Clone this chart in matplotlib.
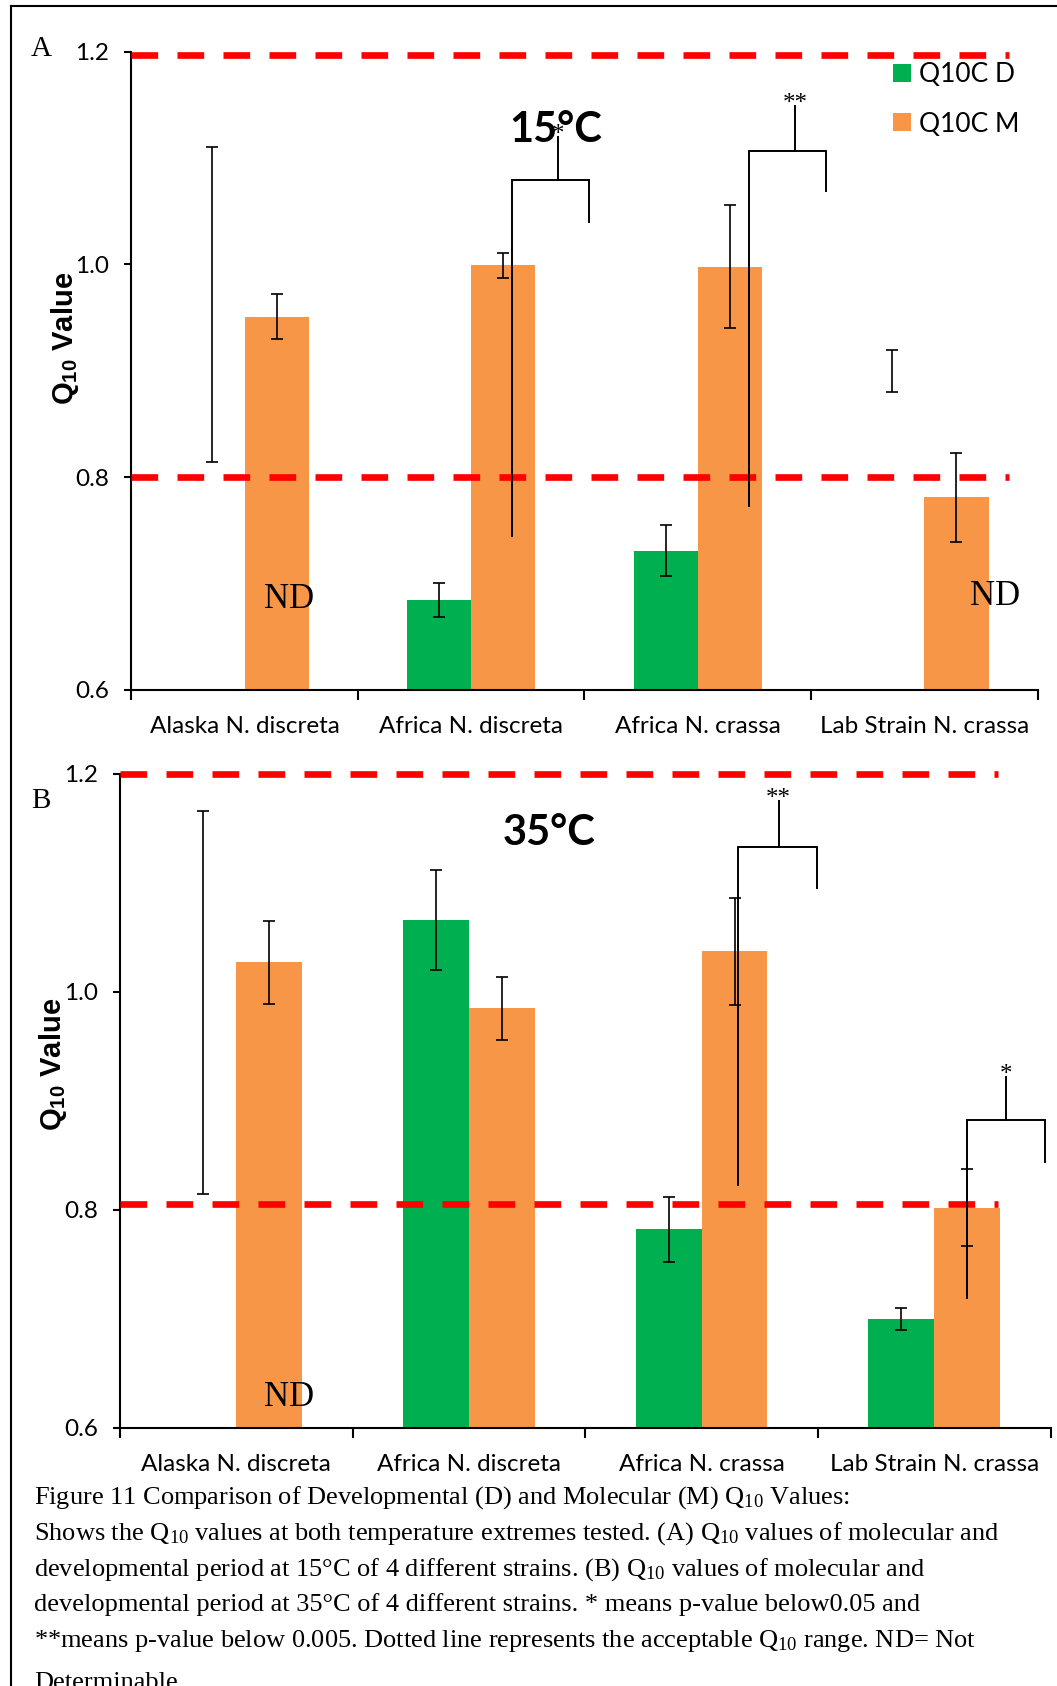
import numpy as np
import matplotlib
matplotlib.use('Agg')
import matplotlib.pyplot as plt
from matplotlib.lines import Line2D

plt.rcParams['mathtext.default'] = 'regular'

strains = ['Alaska N. discreta', 'Africa N. discreta', 'Africa N. crassa', 'Lab Strain N. crassa']
series_names = ['Q10C D', 'Q10C M']
y_ticks = [0.6, 0.8, 1.0, 1.2]

# 15 C panel (D bars marked ND are not drawn, only their error bars)
dev_15 = [0.962, 0.685, 0.731, 0.900]
dev_err_15 = [0.148, 0.016, 0.024, 0.020]
dev_nd_15 = [True, False, False, True]
mol_15 = [0.951, 0.999, 0.998, 0.781]
mol_err_15 = [0.021, 0.012, 0.058, 0.042]
range_15 = [1.197, 0.800]

# 35 C panel
dev_35 = [0.990, 1.066, 0.782, 0.700]
dev_err_35 = [0.176, 0.046, 0.030, 0.010]
dev_nd_35 = [True, False, False, False]
mol_35 = [1.027, 0.985, 1.037, 0.802]
mol_err_35 = [0.038, 0.029, 0.049, 0.035]
range_35 = [1.200, 0.805]

# significance brackets: strain, left/right/stem offset, top, left foot, right foot, stem top, label
brackets_15 = [
    (1, 0.179, 0.520, 0.382, 1.079, 0.745, 1.040, 1.120, '*'),
    (2, 0.227, 0.568, 0.429, 1.107, 0.773, 1.069, 1.149, '**'),
]
brackets_35 = [
    (2, 0.157, 0.494, 0.331, 1.133, 0.823, 1.095, 1.175, '**'),
    (3, 0.142, 0.476, 0.307, 0.882, 0.719, 0.844, 0.922, '*'),
]
# ND labels: strain, offset, baseline
nd_15 = [(0, 0.196, 0.677), (3, 0.313, 0.680)]
nd_35 = [(0, 0.226, 0.620)]

caption = [
    'Figure 11 Comparison of Developmental (D) and Molecular (M) Q$_{10}$ Values:',
    'Shows the Q$_{10}$ values at both temperature extremes tested. (A) Q$_{10}$ values of molecular and',
    'developmental period at 15°C of 4 different strains. (B) Q$_{10}$ values of molecular and',
    'developmental period at 35°C of 4 different strains. * means p-value below0.05 and',
    '**means p-value below 0.005. Dotted line represents the acceptable Q$_{10}$ range. ND= Not',
    'Determinable',
]
caption_baselines = [1504, 1540, 1575.5, 1611, 1647, 1689]

green = '#00B050'
orange = '#F79646'
W, H = 1057, 1686
sans = 'Lato'
serif = 'Liberation Serif'


def draw_panel(ax, dev, dev_err, dev_nd, mol, mol_err, ref, line_end, brackets, nds,
               title, title_pos, label_pos):
    x = np.arange(len(strains))
    w = 0.283
    shown = [i for i in range(len(dev)) if not dev_nd[i]]
    ax.bar(x[shown] - w / 2, [dev[i] for i in shown], w, color=green, label=series_names[0])
    ax.bar(x + w / 2, mol, w, color=orange, label=series_names[1])
    ekw = dict(fmt='none', ecolor='black', elinewidth=1.2, capsize=4.3, capthick=1.2)
    ax.errorbar(x - w / 2, dev, yerr=dev_err, **ekw)
    ax.errorbar(x + w / 2, mol, yerr=mol_err, **ekw)

    for r in ref:
        ax.plot([-0.5, line_end], [r, r], color='red', lw=4.8, dashes=(4.0, 2.9),
                dash_capstyle='butt', clip_on=False, zorder=4)

    for i, l, r, s, top, lf, rf, st, lab in brackets:
        ax.plot([i + l, i + l, i + r, i + r], [lf, top, top, rf], color='black', lw=1.4,
                solid_joinstyle='miter', clip_on=False, zorder=5)
        ax.plot([i + s, i + s], [top, st], color='black', lw=1.4, clip_on=False, zorder=5)
        ax.annotate(lab, (i + s, st), xytext=(0, -3), textcoords='offset points',
                    ha='center', va='baseline', family=serif, fontsize=18, zorder=6)

    for i, off, yb in nds:
        ax.text(i + off, yb, 'ND', ha='center', va='baseline', family=serif, fontsize=25)

    ax.text(title_pos[0], title_pos[1], title, ha='center', va='baseline',
            family=sans, fontweight='bold', fontsize=30)

    ax.set_xlim(-0.5, 3.5)
    ax.set_ylim(0.6, 1.2)
    ax.set_yticks(y_ticks)
    ax.set_yticklabels(['%.1f' % t for t in y_ticks], family=sans, fontsize=17.5)
    ax.set_xticks(x)
    ax.set_xticklabels(strains, family=sans, fontsize=17.5)
    ax.set_xticks(np.arange(-0.5, 4, 1), minor=True)
    ax.tick_params(axis='x', which='major', length=0, pad=19)
    ax.tick_params(axis='x', which='minor', length=7, width=1.5, direction='out')
    ax.tick_params(axis='y', length=5, width=1.5, direction='out', pad=11)
    for side in ['top', 'right']:
        ax.spines[side].set_visible(False)
    for side in ['left', 'bottom']:
        ax.spines[side].set_linewidth(1.5)
    ax.set_ylabel('Q$_{10}$ Value', family='Liberation Sans', fontweight='bold', fontsize=21)
    ax.yaxis.set_label_coords(*label_pos)


fig = plt.figure(figsize=(W / 100, H / 100), dpi=100)
ax_a = fig.add_axes([131.2 / W, 1 - 690 / H, 906.5 / W, 638.4 / H])
ax_b = fig.add_axes([120 / W, 1 - 1427.6 / H, 930.6 / W, 653.7 / H])

draw_panel(ax_a, dev_15, dev_err_15, dev_nd_15, mol_15, mol_err_15, range_15, 3.374,
           brackets_15, nd_15, '15°C', (1.375, 1.115), (-0.055, 0.55))
draw_panel(ax_b, dev_35, dev_err_35, dev_nd_35, mol_35, mol_err_35, range_35, 3.273,
           brackets_35, nd_35, '35°C', (1.344, 1.135), (-0.055, 0.556))

leg = ax_a.legend(loc='upper left', bbox_to_anchor=(893 / W, 1 - 62 / H),
                  bbox_transform=fig.transFigure, frameon=False, prop={'family': sans, 'size': 19},
                  handlelength=0.68, handleheight=0.68, handletextpad=0.3, labelspacing=0.93,
                  borderpad=0, borderaxespad=0)

fig.text(41 / W, 1 - 56 / H, 'A', ha='center', va='baseline', family=serif, fontsize=21)
fig.text(41 / W, 1 - 808 / H, 'B', ha='center', va='baseline', family=serif, fontsize=21)

for line, yb in zip(caption, caption_baselines):
    fig.text(34 / W, 1 - yb / H, line, ha='left', va='baseline', family=serif, fontsize=19)

# page frame around the figure
fig.add_artist(Line2D([11 / W, 11 / W], [0, 1 - 6 / H], color='black', lw=1.5))
fig.add_artist(Line2D([11 / W, 1], [1 - 6 / H, 1 - 6 / H], color='black', lw=1.5))

fig.savefig('out.png', dpi=100)
